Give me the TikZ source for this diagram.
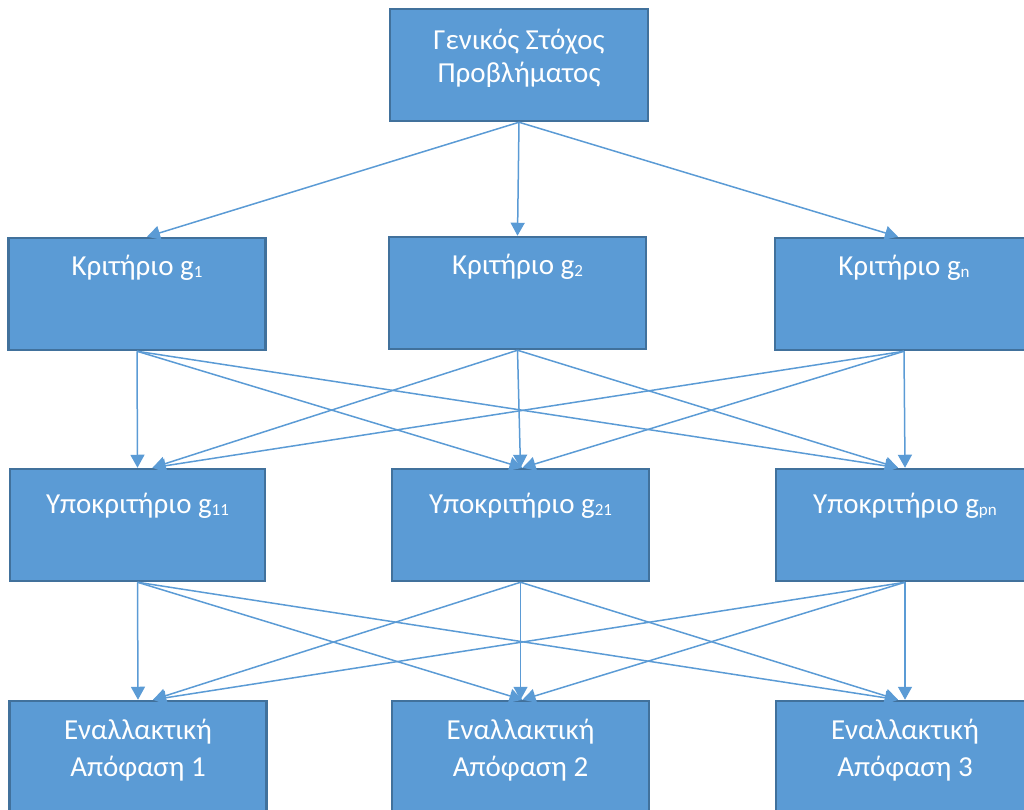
\documentclass[tikz,border=0pt]{standalone}
\usepackage{fontspec}
\setmainfont{Carlito}
\usetikzlibrary{arrows.meta}
\definecolor{boxfill}{HTML}{5B9BD5}
\definecolor{boxedge}{HTML}{41719C}
% small lowered index after a letter
\newcommand{\lowidx}[1]{\raisebox{-2pt}{\fontsize{17}{17}\selectfont #1}}

\begin{document}
\begin{tikzpicture}[x=1pt,y=-1pt,
  box/.style={draw=boxedge, line width=2.5pt, fill=boxfill,
    minimum height=112pt, inner sep=0pt},
  lbl/.style={text=white, font=\fontsize{29}{33}\selectfont, align=center,
    inner sep=0pt},
  wide/.style={lbl, font=\fontsize{29}{37}\selectfont},
  one/.style={lbl, text height=22pt, text depth=7pt},
  link/.style={draw=boxfill, line width=1.5pt,
    -{Triangle[length=13pt,width=14pt]}}]
\useasboundingbox (0,0) rectangle (1024,810);

% boxes
\node[box, minimum width=258pt] (t)  at (519,65)   {};
\node[box, minimum width=257pt] (c1) at (137,294)  {};
\node[box, minimum width=257pt] (c2) at (517.5,293) {};
\node[box, minimum width=258pt] (c3) at (904,294)  {};
\node[box, minimum width=255pt] (s1) at (137.5,525) {};
\node[box, minimum width=257pt] (s2) at (520.5,525) {};
\node[box, minimum width=258pt] (s3) at (905,525)  {};
\node[box, minimum width=257pt] (a1) at (138,757)  {};
\node[box, minimum width=257pt] (a2) at (520.5,757) {};
\node[box, minimum width=258pt] (a3) at (905,757)  {};

% labels
\node[lbl] (tt) at (519,58) {Γενικός Στόχος\\Προβλήματος};
\node[one] (c1t) at (137,267.5) {Κριτήριο g\lowidx{1}};
\node[one] (c2t) at (517.5,266.5) {Κριτήριο g\lowidx{2}};
\node[one] (c3t) at (904,267.5) {Κριτήριο g\lowidx{n}};
\node[one] (s1t) at (137.5,505.5) {Υποκριτήριο g\lowidx{11}};
\node[one] (s2t) at (520.5,505.5) {Υποκριτήριο g\lowidx{21}};
\node[one] (s3t) at (905,505.5) {Υποκριτήριο g\lowidx{pn}};
\node[wide] (a1t) at (138,750) {Εναλλακτική\\Απόφαση 1};
\node[wide] (a2t) at (520.5,750) {Εναλλακτική\\Απόφαση 2};
\node[wide] (a3t) at (905,750) {Εναλλακτική\\Απόφαση 3};

% goal to criteria
\draw[link] (t.south) -- ([xshift=10pt]c1.north);
\draw[link] (t.south) -- (c2.north);
\draw[link] (t.south) -- ([xshift=-6pt]c3.north);

% criteria to sub-criteria, sub-criteria to alternatives
\foreach \j/\dx in {1/15,2/2,3/-7}{
  \foreach \i in {1,2,3}{
    \ifnum\i=\j \def\sh{0}\else\def\sh{\dx}\fi
    \draw[link] (c\i.south) -- ([xshift=\sh pt]s\j.north);
    \draw[link] (s\i.south) -- ([xshift=\sh pt]a\j.north);
  }
}
\end{tikzpicture}
\end{document}
